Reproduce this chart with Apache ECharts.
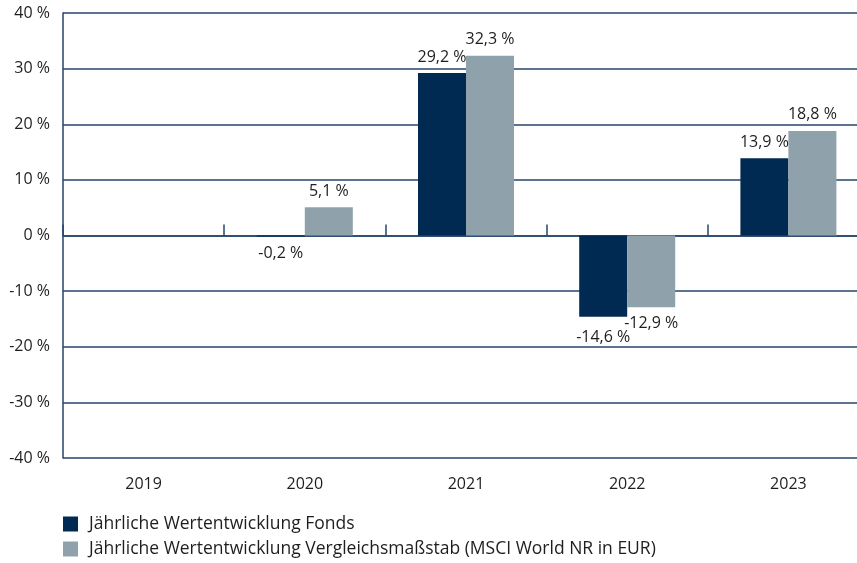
<!DOCTYPE html>
<html>
<head>
<meta charset="utf-8">
<script src="https://cdn.jsdelivr.net/npm/echarts@6/dist/echarts.min.js"></script>
<style>
  html, body { margin: 0; padding: 0; background: #fff; }
  #chart { width: 857px; height: 563px; }
</style>
</head>
<body>
<div id="chart"></div>
<script>
const years = ['2019', '2020', '2021', '2022', '2023'];
const fondsValues = [null, -0.2, 29.2, -14.6, 13.9];
const benchValues = [null, 5.1, 32.3, -12.9, 18.8];
const seriesNames = [
  'Jährliche Wertentwicklung Fonds',
  'Jährliche Wertentwicklung Vergleichsmaßstab (MSCI World NR in EUR)'
];

const font = 'Open Sans';
const lineColor = '#24456a';
const textColor = '#1e1e1e';

const fmtPct = (v) => v.toFixed(1).replace('.', ',') + ' %';

const barLabel = {
  show: true,
  position: 'top',
  distance: 8,
  color: textColor,
  fontFamily: font,
  fontSize: 16,
  formatter: (p) => fmtPct(p.value)
};

// negative labels sit under the bar, the big ones a bit lower
const toData = (vals, bigDist) => vals.map(v => v === null ? '-' : {
  value: v,
  label: v < 0 ? { position: 'bottom', distance: v < -5 ? bigDist : 9 } : {}
});

const legendBase = {
  orient: 'vertical',
  left: 63,
  padding: 0,
  itemWidth: 15,
  itemHeight: 15,
  icon: 'rect',
  textStyle: { color: textColor, fontFamily: font, fontSize: 17.5, padding: [0, 0, 0, 6] }
};

const chart = echarts.init(document.getElementById('chart'));
chart.setOption({
  animation: false,
  backgroundColor: '#fff',
  textStyle: { fontFamily: font },
  grid: { left: 63, top: 13, width: 806, height: 445, outerBoundsMode: 'none', containLabel: false },
  legend: [
    Object.assign({}, legendBase, { top: 515, data: [seriesNames[0]] }),
    Object.assign({}, legendBase, { top: 540, data: [seriesNames[1]] })
  ],
  xAxis: [
    {
      type: 'category',
      data: years,
      axisLine: { onZero: true, lineStyle: { color: lineColor, width: 1.5 } },
      axisTick: { show: true, inside: true, length: 11, lineStyle: { color: lineColor, width: 1.5 } },
      axisLabel: { show: false }
    },
    {
      type: 'category',
      data: years,
      position: 'bottom',
      axisLine: { show: false, onZero: false },
      axisTick: { show: false },
      axisLabel: { color: textColor, fontFamily: font, fontSize: 16, margin: 18 }
    }
  ],
  yAxis: {
    type: 'value',
    min: -40,
    max: 40,
    interval: 10,
    axisLine: { show: true, lineStyle: { color: lineColor, width: 1.5 } },
    axisTick: { show: false },
    splitLine: { lineStyle: { color: lineColor, width: 1.5 } },
    axisLabel: {
      color: textColor,
      fontFamily: font,
      fontSize: 16,
      margin: 13,
      formatter: (v) => v + ' %'
    }
  },
  series: [
    {
      name: seriesNames[0],
      type: 'bar',
      xAxisIndex: 0,
      barWidth: 48,
      barGap: '0%',
      itemStyle: { color: '#002a52' },
      label: barLabel,
      data: toData(fondsValues, 13)
    },
    {
      name: seriesNames[1],
      type: 'bar',
      xAxisIndex: 0,
      barWidth: 48,
      barGap: '0%',
      itemStyle: { color: '#8fa2ac' },
      label: barLabel,
      data: toData(benchValues, 8)
    }
  ]
});
</script>
</body>
</html>
